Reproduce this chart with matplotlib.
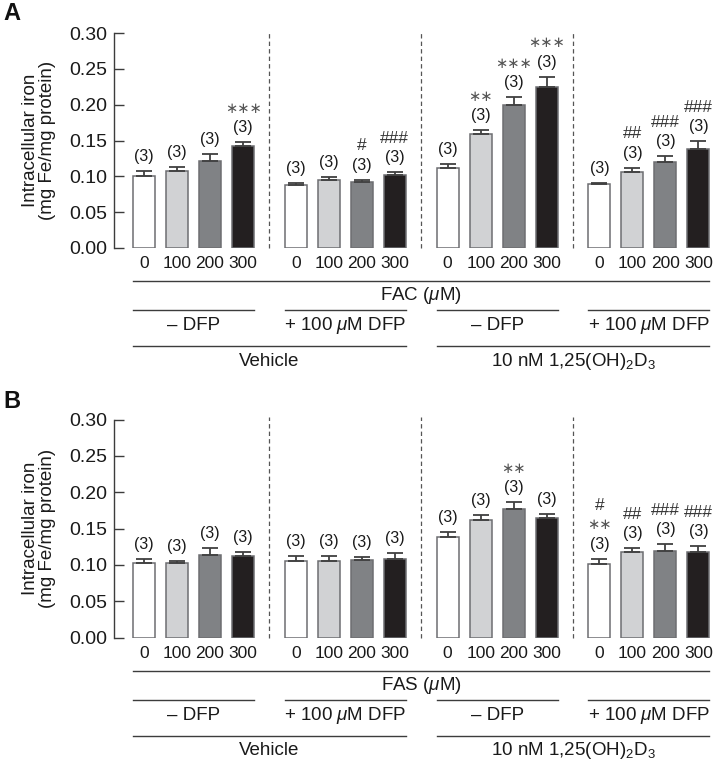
import matplotlib
matplotlib.use("Agg")
import matplotlib.pyplot as plt
import matplotlib.transforms as mtransforms
from matplotlib.lines import Line2D

plt.rcParams['font.family'] = ['Liberation Sans', 'DejaVu Sans']
plt.rcParams['mathtext.fontset'] = 'custom'
plt.rcParams['mathtext.rm'] = 'Liberation Sans'
plt.rcParams['mathtext.it'] = 'Liberation Sans:italic'

# ---------------- data ----------------
doses = ["0", "100", "200", "300"]
dfp_labels = ["\u2013 DFP", "+ 100 $\\mu$M DFP", "\u2013 DFP", "+ 100 $\\mu$M DFP"]
treat_labels = ["Vehicle", "10 nM 1,25(OH)$_2$D$_3$"]
n_labels = "(3)"

fac_mean = [[0.100, 0.107, 0.121, 0.142],
            [0.0875, 0.095, 0.092, 0.102],
            [0.111, 0.159, 0.199, 0.224],
            [0.090, 0.106, 0.120, 0.138]]
fac_err = [[0.008, 0.0056, 0.0106, 0.0057],
           [0.0035, 0.004, 0.003, 0.004],
           [0.0056, 0.005, 0.011, 0.0146],
           [0.0012, 0.0056, 0.008, 0.011]]
fac_sig = [[[], [], [], ["***"]],
           [[], [], ["#"], ["###"]],
           [[], ["**"], ["***"], ["***"]],
           [[], ["##"], ["###"], ["###"]]]

fas_mean = [[0.1027, 0.103, 0.1142, 0.1128],
            [0.1055, 0.105, 0.106, 0.1087],
            [0.138, 0.1618, 0.1775, 0.1646],
            [0.1018, 0.1178, 0.1197, 0.1174]]
fas_err = [[0.005, 0.0025, 0.0083, 0.0046],
           [0.007, 0.0065, 0.005, 0.007],
           [0.0073, 0.0062, 0.0087, 0.0047],
           [0.0064, 0.0051, 0.0087, 0.0082]]
fas_sig = [[[], [], [], []],
           [[], [], [], []],
           [[], [], ["**"], []],
           [["**", "#"], ["##"], ["###"], ["###"]]]

panels = [("A", "FAC ($\\mu$M)", fac_mean, fac_err, fac_sig),
          ("B", "FAS ($\\mu$M)", fas_mean, fas_err, fas_sig)]

bar_colors = ["#ffffff", "#d1d2d4", "#808285", "#231f20"]
edge_color = "#6d6e71"
line_color = "#3c3c3c"
text_color = "#1a1a1a"

W, H = 716, 765
fig = plt.figure(figsize=(W / 100, H / 100), dpi=100)

group_step = 4.6
bar_w = 0.67
xlim = (-0.91, 17.3)
px_per_unit = 33.0

geoms = [(248.0, 33.0), (637.5, 419.5)]
labels_y = [14, 401]

for (plabel, xunit, means, errs, sigs), (bot, top), ly in zip(panels, geoms, labels_y):
    hpx = bot - top
    wpx = (xlim[1] - xlim[0]) * px_per_unit
    ax = fig.add_axes([114 / W, (H - bot) / H, wpx / W, hpx / H])
    ax.set_xlim(*xlim)
    ax.set_ylim(0, 0.30)
    for s in ["top", "right", "bottom"]:
        ax.spines[s].set_visible(False)
    ax.spines["left"].set_color("#3c3c3c")
    ax.spines["left"].set_linewidth(1.0)
    ax.set_yticks([0, 0.05, 0.10, 0.15, 0.20, 0.25, 0.30])
    ax.set_yticklabels(["0.00", "0.05", "0.10", "0.15", "0.20", "0.25", "0.30"])
    ax.tick_params(axis="y", direction="in", length=7, width=1.0, color="#3c3c3c",
                   labelsize=14, pad=4.5, labelcolor=text_color)

    xs_all, lab_all = [], []
    for g in range(4):
        xs = [g * group_step + i for i in range(4)]
        xs_all += xs
        lab_all += doses
        ax.bar(xs, means[g], width=bar_w, color=bar_colors, edgecolor=edge_color,
               linewidth=1.1, zorder=2)
        ax.errorbar(xs, means[g], yerr=[[0] * 4, errs[g]], fmt="none",
                    ecolor="#404040", elinewidth=1.3, capsize=5.5, capthick=1.3, zorder=3)
        for i in range(4):
            topv = means[g][i] + errs[g][i]
            ax.annotate(n_labels, xy=(xs[i], topv), xytext=(0, 10.5),
                        textcoords="offset points", ha="center", va="center",
                        fontsize=11.5, color=text_color)
            for k, s in enumerate(sigs[g][i]):
                yc = 10.5 + 14 * (k + 1)
                if "*" in s:
                    ax.annotate(s.replace("*", "\u2217"), xy=(xs[i], topv),
                                xytext=(0, yc), textcoords="offset points",
                                ha="center", va="center", fontsize=10.5,
                                family=["DejaVu Sans"], color="#555555")
                else:
                    ax.annotate(s, xy=(xs[i], topv), xytext=(0, yc),
                                textcoords="offset points", ha="center", va="center",
                                fontsize=12.5, color="#333333")
        if g < 3:
            xd = g * group_step + 3 + (group_step - 3) / 2
            ax.plot([xd, xd], [0, 0.303], ls=(0, (3.5, 2.5)), color="#555555",
                    lw=0.9, clip_on=False, zorder=1)

    ax.set_xticks(xs_all)
    ax.set_xticklabels(lab_all)
    ax.tick_params(axis="x", length=0, pad=6.0, labelsize=12.5, labelcolor=text_color)

    trans = mtransforms.blended_transform_factory(ax.transData, ax.transAxes)

    def yf(px):
        return -px / hpx

    def hline(x0, x1, ypx):
        ax.add_line(Line2D([x0, x1], [yf(ypx), yf(ypx)], transform=trans,
                           color=line_color, lw=1.0, clip_on=False))

    left = -bar_w / 2
    hw = bar_w / 2
    hline(left, 3 * group_step + 3 + hw, 33)
    ax.text((left + 3 * group_step + 3 + hw) / 2, yf(48), xunit, transform=trans,
            ha="center", va="center", fontsize=13.5, color=text_color)
    for g in range(4):
        x0 = g * group_step - hw
        x1 = g * group_step + 3 + hw
        hline(x0, x1, 62)
        ax.text((x0 + x1) / 2, yf(78), dfp_labels[g], transform=trans,
                ha="center", va="center", fontsize=13.5, color=text_color)
    for t in range(2):
        x0 = (2 * t) * group_step - hw
        x1 = (2 * t + 1) * group_step + 3 + hw
        hline(x0, x1, 98)
        ax.text((x0 + x1) / 2, yf(113), treat_labels[t], transform=trans,
                ha="center", va="center", fontsize=13.5, color=text_color)

    ymid = (bot + top) / 2
    fig.text(39 / W, (H - ymid) / H, "Intracellular iron\n(mg Fe/mg protein)",
             rotation=90, ha="center", va="center", fontsize=13.5,
             linespacing=1.05, color=text_color)
    fig.text(12 / W, (H - ly) / H, plabel, ha="center", va="center",
             fontsize=17, fontweight="bold", color="#111111")

fig.savefig("out.png", dpi=100)
